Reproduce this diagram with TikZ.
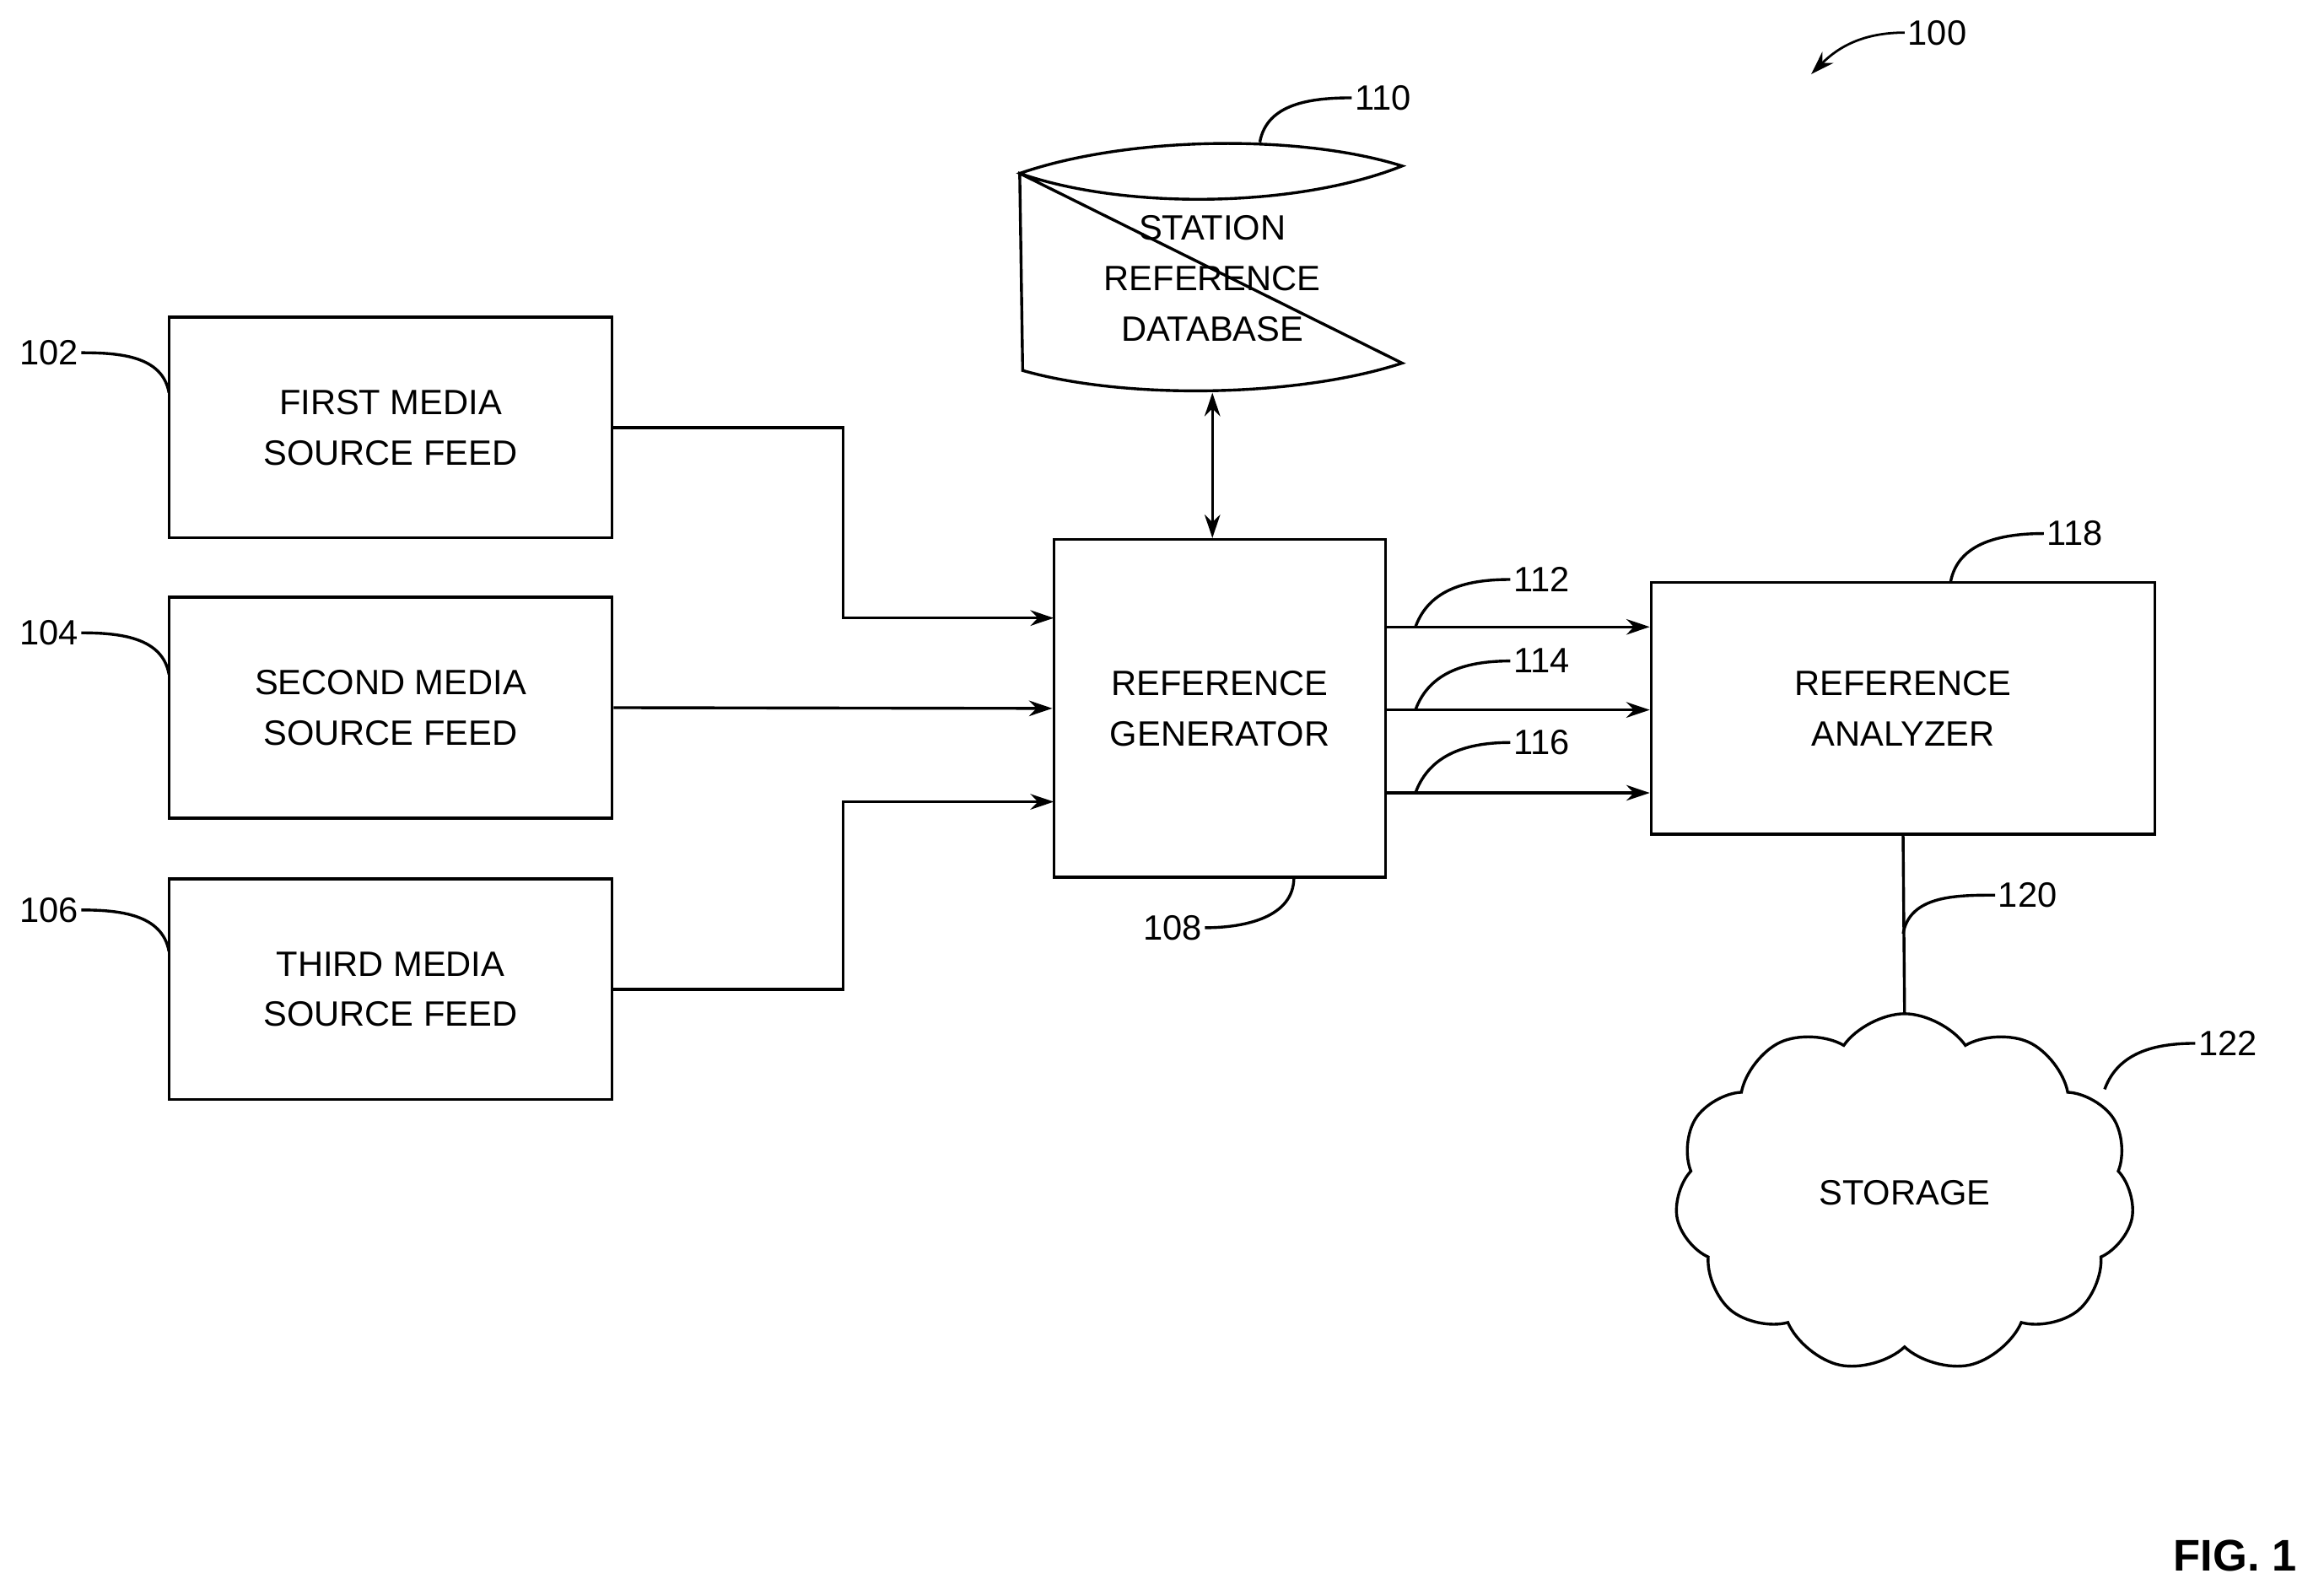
\documentclass[tikz,border=0pt]{standalone}
\usepackage{fontspec}
\setmainfont{Liberation Sans}
\usetikzlibrary{arrows.meta, positioning, shapes.symbols}
\tikzset{
  box/.style={draw, line width=1.1pt, align=center, inner sep=0pt},
  lbl/.style={font=\fontsize{13.5}{19.4}\selectfont, inner sep=1pt},
  link/.style={line width=1.1pt},
  arr/.style={link, -{Stealth[length=9pt,width=6pt]}},
}
\newcommand{\leader}[4]{ % #1: node name, #2: label, #3: label position, #4: curve to target
  \node[lbl] (#1) at #3 {#2};
  \draw[link] #4;
}
\begin{document}
\begin{tikzpicture}[x=0.02cm, y=-0.02cm, font=\fontsize{13.5}{19.4}\selectfont]
\useasboundingbox (0,0) rectangle (1568,1076);

% Media source feeds
\node[box, minimum width=5.98cm, minimum height=2.98cm] (first) at (263.5,288.5) {FIRST MEDIA\\SOURCE FEED};
\node[box, minimum width=5.98cm, minimum height=2.98cm] (second) at (263.5,477.5) {SECOND MEDIA\\SOURCE FEED};
\node[box, minimum width=5.98cm, minimum height=2.98cm] (third) at (263.5,667.5) {THIRD MEDIA\\SOURCE FEED};

% Reference generator and analyzer
\node[box, minimum width=4.48cm, minimum height=4.56cm] (gen) at (823,478) {REFERENCE\\GENERATOR};
\node[box, minimum width=6.8cm, minimum height=3.4cm] (ana) at (1284,478) {REFERENCE\\ANALYZER};

% Station reference database
\draw[link] (688,117) .. controls (760,92) and (876,90) .. (946,112)
  .. controls (876,140) and (760,142) .. (688,117)
  -- (690,250) .. controls (760,270) and (876,268) .. (946,245) -- cycle;
\node[align=center] (db) at (818,188) {STATION\\REFERENCE\\DATABASE};
\coordinate (dbbot) at (818,265);

% Storage cloud
\node[cloud, draw, line width=1.1pt, cloud puffs=11, cloud puff arc=110, aspect=1.25,
  minimum width=6.2cm, minimum height=4.84cm] (store) at (1285,805) {STORAGE};

% Connectors
\draw[arr] (first.east) -- ++(155,0) |- (711,417);
\draw[arr] (second.east) -- (gen.west);
\draw[arr] (third.east) -- ++(155,0) |- (711,541);
\draw[link, {Stealth[length=9pt,width=6pt]}-{Stealth[length=9pt,width=6pt]}] (dbbot) -- (gen.north -| dbbot);
\foreach \y in {423,479,535}
  \draw[arr] (gen.east |- 0,\y) -- (ana.west |- 0,\y);
\draw[link] (ana.south) -- (store.north);

% Reference numerals
\node[lbl] (n100) at (1307,22) {100};
\draw[arr, line width=0.9pt] (n100.west) to[out=180,in=45] (1222,50);
\leader{n102}{102}{(33,238)}{(n102.east) to[out=0,in=100] (114,265)}
\leader{n104}{104}{(33,427)}{(n104.east) to[out=0,in=100] (114,455)}
\leader{n106}{106}{(33,614)}{(n106.east) to[out=0,in=100] (114,642)}
\leader{n110}{110}{(933,66)}{(n110.west) to[out=180,in=80] (850,96)}
\leader{n108}{108}{(791,626)}{(n108.east) to[out=0,in=-90] (873,592)}
\leader{n112}{112}{(1040,391)}{(n112.west) to[out=180,in=70] (955,423)}
\leader{n114}{114}{(1040,446)}{(n114.west) to[out=180,in=70] (955,479)}
\leader{n116}{116}{(1040,501)}{(n116.west) to[out=180,in=70] (955,535)}
\leader{n118}{118}{(1400,360)}{(n118.west) to[out=180,in=80] (1316,393)}
\leader{n120}{120}{(1368,604)}{(n120.west) to[out=180,in=80] (1284,630)}
\leader{n122}{122}{(1503,704)}{(n122.west) to[out=180,in=70] (1420,735)}

\node[font=\fontsize{17}{20}\selectfont\bfseries] (fig) at (1508,1050) {FIG. 1};
\end{tikzpicture}
\end{document}
